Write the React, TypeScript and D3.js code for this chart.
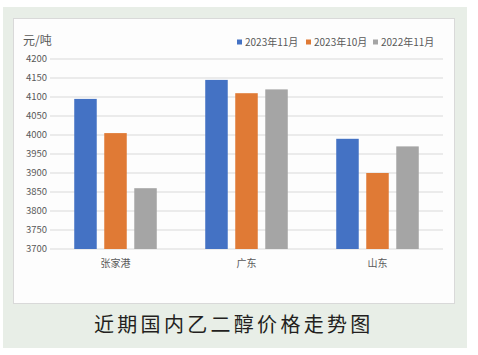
import React from "react";
import * as d3 from "d3";

const categories = ["张家港", "广东", "山东"];
const seriesNames = ["2023年11月", "2023年10月", "2022年11月"];
const nov2023 = [4095, 4145, 3990];
const oct2023 = [4005, 4110, 3900];
const nov2022 = [3860, 4120, 3970];
const yTicks = [3700, 3750, 3800, 3850, 3900, 3950, 4000, 4050, 4100, 4150, 4200];
const colors = ["#4472C4", "#E07A35", "#A5A5A5"];

const W = 478, H = 355;
const plot = { left: 50, right: 443, top: 59, bottom: 249 };

export default function App() {
  const series = [nov2023, oct2023, nov2022];
  const y = d3.scaleLinear().domain([3700, 4200]).range([plot.bottom, plot.top]);
  const x0 = d3.scaleBand().domain(categories).range([plot.left, plot.right]).paddingInner(0.37).paddingOuter(0.185);
  const x1 = d3.scaleBand().domain(seriesNames).range([0, x0.bandwidth()]).paddingInner(0.25);
  const font = "'Microsoft YaHei','Noto Sans CJK SC','DejaVu Sans',sans-serif";
  const legendX = [237, 306, 373];
  return (
    <svg width={W} height={H} style={{ position: "absolute", left: 0, top: 0 }} fontFamily={font}>
      <rect x={0} y={0} width={W} height={H} fill="#ffffff" />
      <rect x={3} y={7} width={464} height={341} fill="#e8eee7" />
      <rect x={13.5} y={18.5} width={441} height={285} fill="#fdfdfd" stroke="#d9d9d9" strokeWidth={1} />
      <text x={23} y={45} fontSize={12} fill="#595959">元/吨</text>
      {yTicks.map((t) => (
        <g key={t}>
          <line x1={plot.left} x2={plot.right} y1={y(t)} y2={y(t)} stroke="#d9d9d9" strokeWidth={1} />
          <text x={plot.left - 3} y={y(t)} dy="0.35em" textAnchor="end" fontSize={9.5} fill="#595959">{t}</text>
        </g>
      ))}
      {categories.map((c, i) => (
        <g key={c}>
          {series.map((s, j) => (
            <rect
              key={j}
              x={(x0(c) as number) + (x1(seriesNames[j]) as number)}
              y={y(s[i])}
              width={x1.bandwidth()}
              height={plot.bottom - y(s[i])}
              fill={colors[j]}
            />
          ))}
          <text x={(x0(c) as number) + x0.bandwidth() / 2} y={267} textAnchor="middle" fontSize={10} fill="#595959">{c}</text>
        </g>
      ))}
      {seriesNames.map((n, j) => (
        <g key={n}>
          <rect x={legendX[j]} y={39.5} width={5} height={5} fill={colors[j]} />
          <text x={legendX[j] + 8} y={46} fontSize={10} fill="#595959">{n}</text>
        </g>
      ))}
      <text x={94} y={332} fontSize={20} letterSpacing={3.3} fill="#231f20">近期国内乙二醇价格走势图</text>
    </svg>
  );
}
